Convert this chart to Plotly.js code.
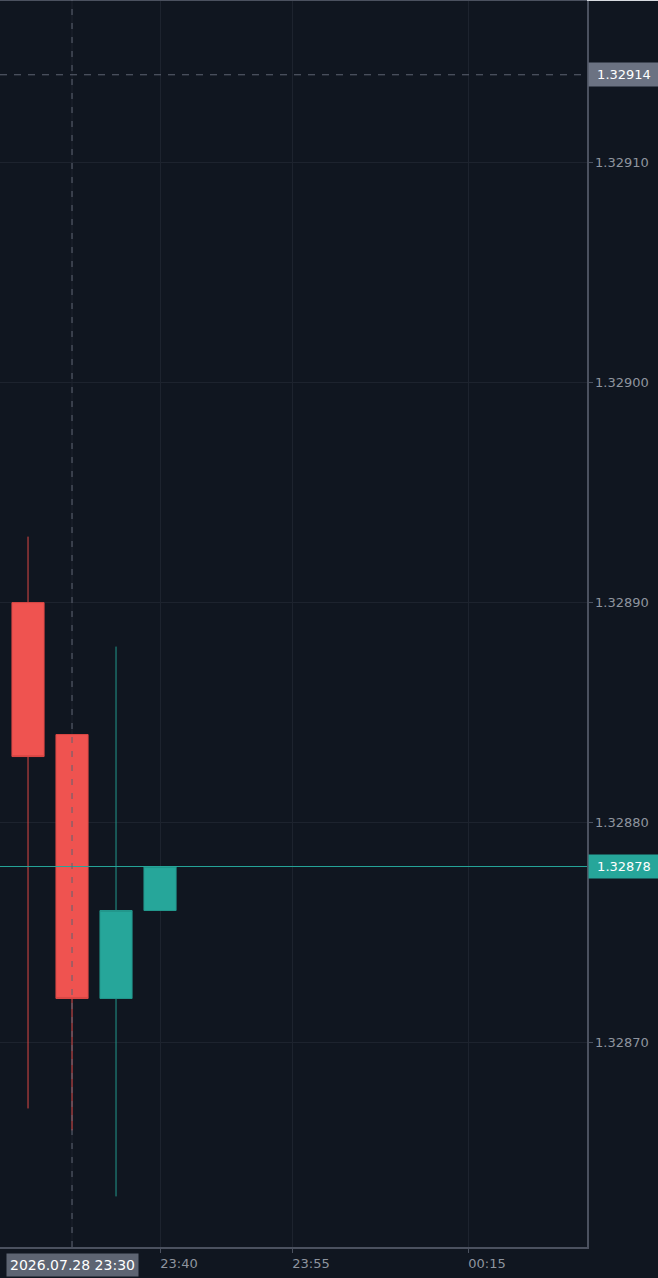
<!DOCTYPE html>
<html>
<head>
<meta charset="utf-8">
<script src="https://cdn.plot.ly/plotly-3.0.1.min.js"></script>
<style>
html,body{margin:0;padding:0;background:#101620;}
#chart{width:658px;height:1278px;}
</style>
</head>
<body>
<div id="chart"></div>
<script>
// Data
const times  = ['2026-07-28 23:25', '2026-07-28 23:30', '2026-07-28 23:35', '2026-07-28 23:40'];
const opens  = [1.32890, 1.32884, 1.32872, 1.32876];
const highs  = [1.32893, 1.32884, 1.32888, 1.32878];
const lows   = [1.32867, 1.32866, 1.32863, 1.32876];
const closes = [1.32883, 1.32872, 1.32876, 1.32878];

const xTickVals = ['2026-07-28 23:40', '2026-07-28 23:55', '2026-07-29 00:15'];
const xTickText = ['23:40', '23:55', '00:15'];

const crossTime = '2026-07-28 23:30';
const crossTimeLabel = '2026.07.28 23:30';
const crossPrice = 1.32914;
const lastPrice = 1.32878;

const xRange = ['2026-07-28 23:21:49', '2026-07-29 00:28:31'];
const yRange = [1.328607, 1.329174];

const BG = '#101620';
const GRID = '#1d232e';
const AXIS = '#4b515f';
const TXT = '#8e949e';
const UP = '#26a69a';
const DOWN = '#ef5350';

const trace = {
  type: 'candlestick',
  x: times, open: opens, high: highs, low: lows, close: closes,
  increasing: {fillcolor: UP, line: {color: '#22978c', width: 1}},
  decreasing: {fillcolor: DOWN, line: {color: '#dc4845', width: 1}},
  whiskerwidth: 0,
  hoverinfo: 'none',
  showlegend: false
};

const layout = {
  width: 658, height: 1278,
  paper_bgcolor: BG, plot_bgcolor: BG,
  margin: {l: 0, r: 71, t: 0, b: 31},
  boxgap: 0.27,
  boxgroupgap: 0,
  showlegend: false,
  font: {family: 'DejaVu Sans', size: 13, color: TXT},
  xaxis: {
    type: 'date', range: xRange,
    rangeslider: {visible: false},
    tickvals: xTickVals, ticktext: xTickText,
    ticklabelshift: 19,
    showgrid: true, gridcolor: GRID, gridwidth: 1,
    showline: true, linecolor: AXIS, linewidth: 1.5,
    ticks: 'outside', ticklen: 4, tickcolor: AXIS,
    tickfont: {family: 'DejaVu Sans', size: 13, color: TXT},
    zeroline: false, fixedrange: true
  },
  yaxis: {
    side: 'right', range: yRange,
    dtick: 0.0001, tick0: 1.3287, tickformat: '.5f',
    showgrid: true, gridcolor: GRID, gridwidth: 1,
    showline: true, linecolor: AXIS, linewidth: 1.5,
    ticks: 'outside', ticklen: 4, tickcolor: AXIS,
    tickfont: {family: 'DejaVu Sans', size: 13, color: TXT},
    zeroline: false, fixedrange: true
  },
  shapes: [
    // gridline under crosshair time
    {type: 'line', xref: 'x', yref: 'paper', x0: crossTime, x1: crossTime, y0: 0, y1: 1,
     line: {color: GRID, width: 1}, layer: 'below'},
    // top border
    {type: 'line', xref: 'paper', yref: 'paper', x0: 0, x1: 1, y0: 1, y1: 1,
     line: {color: AXIS, width: 2}},
    {type: 'line', xref: 'paper', yref: 'paper', x0: 1, x1: 1.125, y0: 1, y1: 1,
     line: {color: '#d8dbe0', width: 2}},
    // last price line
    {type: 'line', xref: 'paper', yref: 'y', x0: 0, x1: 1, y0: lastPrice, y1: lastPrice,
     line: {color: UP, width: 1}},
    // crosshair horizontal
    {type: 'line', xref: 'paper', yref: 'y', x0: 0, x1: 1, y0: crossPrice, y1: crossPrice,
     line: {color: '#5d6472', width: 1, dash: '7px,7px'}},
    // crosshair vertical
    {type: 'line', xref: 'x', yref: 'paper', x0: crossTime, x1: crossTime, y0: 0, y1: 1,
     line: {color: '#5d6472', width: 1, dash: '6px,8px'}}
  ],
  annotations: [
    {xref: 'paper', yref: 'y', x: 1, y: crossPrice, xanchor: 'left', yanchor: 'middle',
     text: crossPrice.toFixed(5), showarrow: false, xshift: 1,
     bgcolor: '#6b7282', borderpad: 4, width: 62, height: 15,
     font: {family: 'DejaVu Sans', size: 13, color: '#ffffff'}},
    {xref: 'paper', yref: 'y', x: 1, y: lastPrice, xanchor: 'left', yanchor: 'middle',
     text: lastPrice.toFixed(5), showarrow: false, xshift: 1,
     bgcolor: UP, borderpad: 4, width: 62, height: 15,
     font: {family: 'DejaVu Sans', size: 13, color: '#ffffff'}},
    {xref: 'x', yref: 'paper', x: crossTime, y: 0, xanchor: 'center', yanchor: 'top',
     text: crossTimeLabel, showarrow: false, yshift: -6,
     bgcolor: '#5d6472', borderpad: 3,
     font: {family: 'DejaVu Sans', size: 14, color: '#ffffff'}}
  ]
};

Plotly.newPlot('chart', [trace], layout, {displayModeBar: false, staticPlot: true});
</script>
</body>
</html>
